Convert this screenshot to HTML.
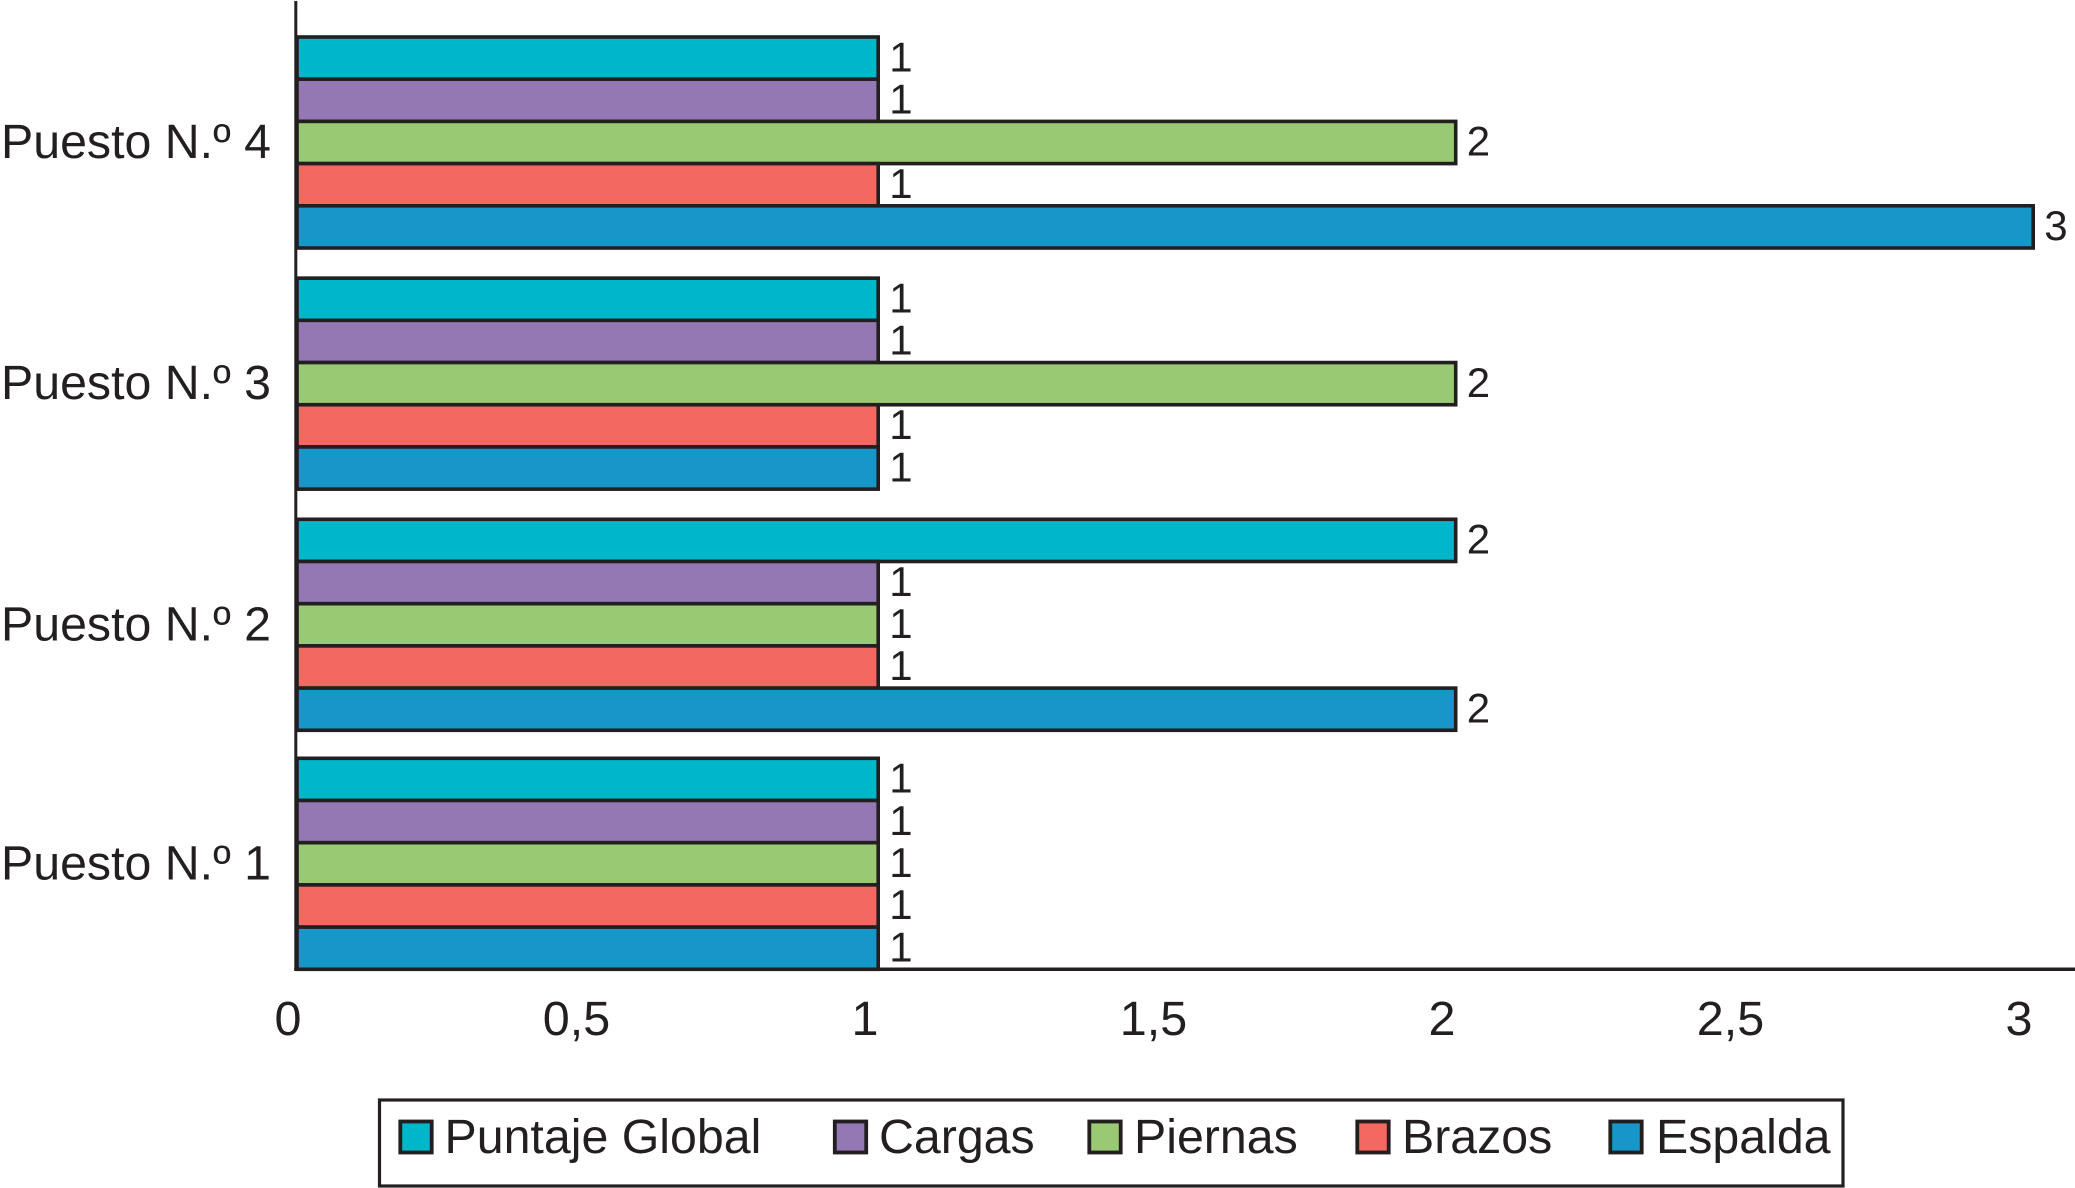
<!DOCTYPE html>
<html lang="es">
<head>
<meta charset="utf-8">
<title>Puntaje por puesto</title>
<style>
html,body{margin:0;padding:0;background:#fff;width:2075px;height:1188px;overflow:hidden}
svg{display:block}
text{font-family:"Liberation Sans",sans-serif;fill:#231f20}
</style>
</head>
<body>
<svg id="chart" xmlns="http://www.w3.org/2000/svg" width="2075" height="1188" viewBox="0 0 2075 1188"></svg>
<script>
const categories = ['Puesto N.º 4', 'Puesto N.º 3', 'Puesto N.º 2', 'Puesto N.º 1'];
const seriesNames = ['Puntaje Global', 'Cargas', 'Piernas', 'Brazos', 'Espalda'];
const seriesColors = ['#00b7c9', '#9378b4', '#9ac974', '#f36861', '#1696c9'];
const puntajeGlobal = [1, 1, 2, 1];
const cargas = [1, 1, 1, 1];
const piernas = [2, 2, 1, 1];
const brazos = [1, 1, 1, 1];
const espalda = [3, 1, 2, 1];
const seriesValues = [puntajeGlobal, cargas, piernas, brazos, espalda];
const xTicks = [0, 0.5, 1, 1.5, 2, 2.5, 3];
const xTickLabels = ['0', '0,5', '1', '1,5', '2', '2,5', '3'];

const INK = '#231f20';
const svg = document.getElementById('chart');
const NS = 'http://www.w3.org/2000/svg';

function make(tag, attrs, parent) {
  const el = document.createElementNS(NS, tag);
  for (const k in attrs) el.setAttribute(k, attrs[k]);
  (parent || svg).appendChild(el);
  return el;
}
function xScale(v) { return 300.7 + v * 577.5; }
function xTickPos(v) { return 288 + v * 577; }
function groupTop(g) { return 37 + g * 241.15 - (g === 3 ? 2.15 : 0); }
function barTop(g, s) { return groupTop(g) + s * 42.2; }

const AXIS_X = 295.8;
const BAR_LEFT = 297;
const BAR_H = 42.2;

const yAxis = make('line', {x1: AXIS_X, y1: 1, x2: AXIS_X, y2: 971, stroke: INK, 'stroke-width': 3});



const xAxis = make('line', {x1: AXIS_X - 1.5, y1: 969.3, x2: 2075, y2: 969.3, stroke: INK, 'stroke-width': 3.5});



categories.forEach(function (cat, g) {
  const group = make('g', {});
  
  

  const label = make('text', {x: 1, y: groupTop(g) + 121, 'font-size': 48.3}, group);
  
  
  label.textContent = cat;

  seriesNames.forEach(function (name, s) {
    const v = seriesValues[s][g];
    const y = barTop(g, s);
    const right = xScale(v);

    const bar = make('rect', {
      x: BAR_LEFT, y: y, width: right - BAR_LEFT, height: BAR_H,
      fill: seriesColors[s], stroke: INK, 'stroke-width': 3.6
    }, group);
    
    

    const val = make('text', {x: right + 11, y: y + BAR_H / 2 + 13.2, 'font-size': 42}, group);
    
    
    val.textContent = String(v);
  });
});

xTicks.forEach(function (t, i) {
  const tick = make('text', {x: xTickPos(t), y: 1035, 'font-size': 48.5, 'text-anchor': 'middle'});
  
  
  tick.textContent = xTickLabels[i];
});

const legendBox = make('rect', {x: 379.5, y: 1100, width: 1463.5, height: 86, fill: '#fff', stroke: INK, 'stroke-width': 3.2});



const legendSwatchLeft = [400.3, 834.8, 1089.3, 1357.3, 1610.3];
const legendTextLeft = [444.5, 879, 1134, 1402, 1656];
seriesNames.forEach(function (name, s) {
  const entry = make('g', {});
  
  

  const sw = make('rect', {x: legendSwatchLeft[s], y: 1121.5, width: 31.4, height: 31, fill: seriesColors[s], stroke: INK, 'stroke-width': 3.8}, entry);
  
  

  const txt = make('text', {x: legendTextLeft[s], y: 1153, 'font-size': 48.3}, entry);
  
  
  txt.textContent = name;
});
</script>
</body>
</html>
